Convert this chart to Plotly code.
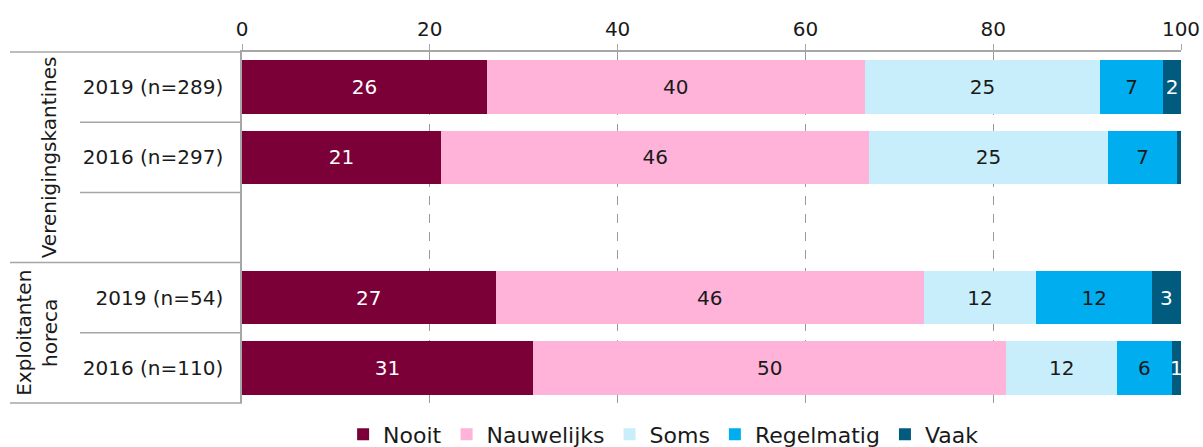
import plotly.graph_objects as go

categories = ["2019 (n=289)", "2016 (n=297)", " ", "2019 (n=54)", "2016 (n=110)"]
nooit = [26.1, 21.2, None, 27.0, 31.0]
nauwelijks = [40.2, 45.6, None, 45.6, 50.4]
soms = [25.1, 25.4, None, 12.0, 11.8]
regelmatig = [6.7, 7.4, None, 12.3, 5.8]
vaak = [1.9, 0.4, None, 3.1, 1.0]
series_names = ["Nooit", "Nauwelijks", "Soms", "Regelmatig", "Vaak"]
group_labels = ["Verenigingskantines", "Exploitanten<br>horeca"]
x_ticks = [0, 20, 40, 60, 80, 100]

colors = ["#7B0038", "#FFB3D9", "#C9EEFB", "#00AEEF", "#005B7F"]
text_colors = ["white", "#1a1a1a", "#1a1a1a", "#1a1a1a", "white"]
FONT = "DejaVu Sans"
LINE = "#A6A6A6"

def labels(vals):
    out = []
    for v in vals:
        if v is None or v < 0.95:
            out.append("")
        else:
            out.append(str(int(round(v))))
    return out

fig = go.Figure()
for name, vals, c, tc in zip(series_names, [nooit, nauwelijks, soms, regelmatig, vaak], colors, text_colors):
    fig.add_trace(go.Bar(
        y=categories, x=vals, name=name, orientation="h",
        marker=dict(color=c, line=dict(width=0)),
        text=labels(vals), textposition="inside", insidetextanchor="middle",
        textfont=dict(color=tc, size=20, family=FONT),
        hoverinfo="x+name",
    ))

fig.update_layout(
    barmode="stack", bargap=0.24,
    width=1203, height=447,
    margin=dict(l=242, r=22, t=52, b=44, autoexpand=False),
    plot_bgcolor="white", paper_bgcolor="white",
    font=dict(family=FONT, size=20, color="#1a1a1a"),
    uniformtext=dict(minsize=20, mode="show"),
    legend=dict(orientation="h", x=0.449, xanchor="center", y=-0.03, yanchor="top",
                font=dict(size=22, family=FONT), itemwidth=30, traceorder="normal"),
    showlegend=True,
)
fig.update_xaxes(
    side="top", range=[0, 100], tickvals=x_ticks, showgrid=True, gridcolor="#9A9A9A",
    griddash="dash", gridwidth=1, showline=True, linecolor=LINE, linewidth=1.5,
    ticks="outside", ticklen=6, tickcolor=LINE, zeroline=False, automargin=False,
    tickfont=dict(size=20, family=FONT),
)
fig.update_yaxes(
    categoryorder="array", categoryarray=categories, autorange="reversed",
    showline=True, linecolor=LINE, linewidth=1.5, ticks="", showgrid=False, automargin=False,
    tickfont=dict(size=20, family=FONT), ticklabelstandoff=13,
)

px = 939.0
def xp(pix):
    return (pix - 242) / px

shapes = []
for yv in [1.0, 0.4, 0.0]:
    shapes.append(dict(type="line", xref="paper", yref="paper", x0=xp(10), x1=0, y0=yv, y1=yv,
                       line=dict(color=LINE, width=1.5)))
for yv in [0.8, 0.6, 0.2]:
    shapes.append(dict(type="line", xref="paper", yref="paper", x0=xp(80), x1=0, y0=yv, y1=yv,
                       line=dict(color=LINE, width=1.5)))
fig.update_layout(shapes=shapes)

fig.add_annotation(text=group_labels[0], xref="paper", yref="paper", x=xp(49), y=0.70,
                   textangle=-90, showarrow=False, font=dict(size=20, family=FONT),
                   xanchor="center", yanchor="middle")
fig.add_annotation(text=group_labels[1], xref="paper", yref="paper", x=xp(37), y=0.2,
                   textangle=-90, showarrow=False, font=dict(size=20, family=FONT),
                   xanchor="center", yanchor="middle", align="center")

fig.write_html("out.html", config={"displayModeBar": False},
               post_script="document.body.style.margin='0';document.body.style.overflow='hidden';")
